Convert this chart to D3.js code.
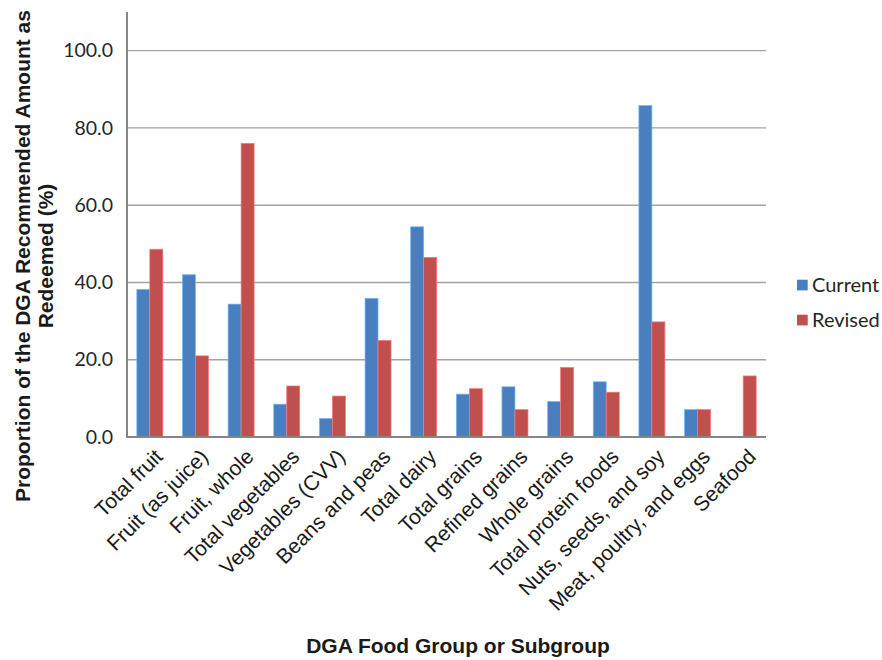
<!DOCTYPE html>
<html>
<head>
<meta charset="utf-8">
<script src="https://cdn.jsdelivr.net/npm/d3@7"></script>
<style>
  html, body { margin: 0; padding: 0; background: #fff; }
  svg { display: block; }
  .arial { font-family: "Liberation Sans", Arial, Helvetica, sans-serif; }
  .calib { font-family: Lato, "Open Sans", sans-serif; }
</style>
</head>
<body>
<svg id="chart" width="882" height="660"></svg>
<script>
// Food groups on the x axis
const categories = [
  "Total fruit", "Fruit (as juice)", "Fruit, whole", "Total vegetables",
  "Vegetables (CVV)", "Beans and peas", "Total dairy", "Total grains",
  "Refined grains", "Whole grains", "Total protein foods",
  "Nuts, seeds, and soy", "Meat, poultry, and eggs", "Seafood"
];
// Percent of recommended amount redeemed, per package
const currentValues = [38.2, 42.0, 34.4, 8.5, 4.8, 35.9, 54.4, 11.1, 13.0, 9.2, 14.3, 85.8, 7.1, 0];
const revisedValues = [48.6, 21.0, 76.0, 13.2, 10.6, 25.0, 46.5, 12.5, 7.1, 18.0, 11.6, 29.8, 7.1, 15.8];
const seriesNames = ["Current", "Revised"];
const yTicks = [0, 20, 40, 60, 80, 100];

const colors = { Current: "#4a7fbf", Revised: "#c0504e" };

const svg = d3.select("#chart");
const plot = { left: 127, right: 766, top: 12, bottom: 437 };

const x0 = d3.scaleBand()
  .domain(categories)
  .range([plot.left, plot.right])
  .paddingInner(0.43)
  .paddingOuter(0.215);
const x1 = d3.scaleBand()
  .domain(seriesNames)
  .range([0, x0.bandwidth()]);
const y = d3.scaleLinear().domain([0, 110]).range([plot.bottom, plot.top]);

const rows = categories.map((c, i) => ({
  category: c,
  values: [
    { key: "Current", value: currentValues[i] },
    { key: "Revised", value: revisedValues[i] }
  ]
}));

// Horizontal gridlines
svg.append("g")
  .selectAll("line")
  .data(yTicks.filter(t => t > 0))
  .join("line")
  .attr("x1", plot.left).attr("x2", plot.right)
  .attr("y1", d => y(d)).attr("y2", d => y(d))
  .attr("stroke", "#a3a3a3")
  .attr("stroke-width", 1.4);

// Y axis tick labels
const yAxis = d3.axisLeft(y).tickValues(yTicks).tickSize(0).tickPadding(14)
  .tickFormat(d3.format(".1f"));
const yg = svg.append("g").attr("transform", `translate(${plot.left},0)`).call(yAxis);
yg.select(".domain").remove();
yg.attr("font-family", null);
yg.selectAll("text")
  .attr("class", "calib")
  .attr("font-size", 19.5)
  .attr("fill", "#262626");

// Bars
const groups = svg.append("g")
  .selectAll("g")
  .data(rows)
  .join("g")
  .attr("transform", d => `translate(${x0(d.category)},0)`);

groups.selectAll("rect")
  .data(d => d.values.filter(v => v.value > 0))
  .join("rect")
  .attr("x", d => x1(d.key))
  .attr("width", x1.bandwidth())
  .attr("y", d => y(d.value))
  .attr("height", d => y(0) - y(d.value))
  .attr("fill", d => colors[d.key])
  .attr("stroke", d => d3.color(colors[d.key]).brighter(1.1))
  .attr("stroke-width", 0.7);

// Axis lines
svg.append("line")
  .attr("x1", plot.left).attr("x2", plot.left)
  .attr("y1", plot.top).attr("y2", plot.bottom)
  .attr("stroke", "#868686").attr("stroke-width", 2);
svg.append("line")
  .attr("x1", plot.left - 1).attr("x2", plot.right)
  .attr("y1", plot.bottom).attr("y2", plot.bottom)
  .attr("stroke", "#868686").attr("stroke-width", 2);

// Rotated category labels
const xAxis = d3.axisBottom(x0).tickSize(0).tickPadding(0);
const xg = svg.append("g").attr("transform", `translate(0,${plot.bottom})`).call(xAxis);
xg.select(".domain").remove();
xg.attr("font-family", null);
xg.selectAll("text")
  .attr("class", "arial")
  .attr("font-size", 21)
  .attr("fill", "#1a1a1a")
  .attr("text-anchor", "end")
  .attr("dy", null)
  .attr("y", 0)
  .attr("transform", "translate(14,21) rotate(-45)");

// Axis titles
svg.append("text")
  .attr("class", "arial")
  .attr("x", 458).attr("y", 653)
  .attr("text-anchor", "middle")
  .attr("font-weight", "bold")
  .attr("font-size", 21)
  .attr("fill", "#1a1a1a")
  .text("DGA Food Group or Subgroup");

const yTitle = svg.append("text")
  .attr("class", "arial")
  .attr("transform", "translate(0,256) rotate(-90)")
  .attr("text-anchor", "middle")
  .attr("font-weight", "bold")
  .attr("font-size", 21)
  .attr("fill", "#1a1a1a");
yTitle.append("tspan").attr("x", 0).attr("y", 30)
  .text("Proportion of the DGA Recommended Amount as");
yTitle.append("tspan").attr("x", 0).attr("y", 53)
  .text("Redeemed (%)");

// Legend
const legend = svg.append("g")
  .selectAll("g")
  .data(seriesNames)
  .join("g")
  .attr("transform", (d, i) => `translate(797,${285 + i * 35})`);
legend.append("rect")
  .attr("x", 0).attr("y", -5.3)
  .attr("width", 10.7).attr("height", 10.7)
  .attr("fill", d => colors[d]);
legend.append("text")
  .attr("class", "calib")
  .attr("x", 15).attr("y", 0).attr("dy", "0.35em")
  .attr("font-size", 20)
  .attr("fill", "#262626")
  .text(d => d);
</script>
</body>
</html>
